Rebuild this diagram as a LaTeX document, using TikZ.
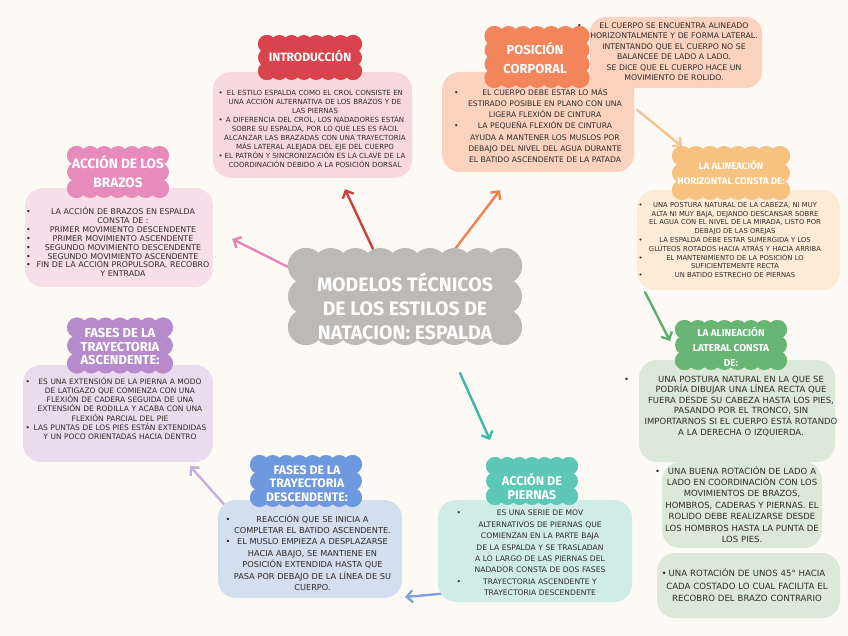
\documentclass[tikz,border=0pt]{standalone}
\usepackage{fontspec}
\setmainfont{Fira Sans}
\newfontfamily\bodyf{DejaVu Sans}
\usetikzlibrary{arrows.meta,calc}
\setlength\parindent{0pt}
\setlength\parskip{0pt}
\definecolor{bgc}{HTML}{FDFAF6}
\definecolor{txtc}{HTML}{302B29}
\definecolor{introC}{HTML}{D9434E}
\definecolor{introB}{HTML}{F9D8DB}
\definecolor{introA}{HTML}{C8413A}
\definecolor{posC}{HTML}{F2855A}
\definecolor{posB}{HTML}{FAD2BE}
\definecolor{posA}{HTML}{EF814F}
\definecolor{braC}{HTML}{E68BBB}
\definecolor{braB}{HTML}{F7DFEA}
\definecolor{braA}{HTML}{E684B6}
\definecolor{horC}{HTML}{F7C27F}
\definecolor{horB}{HTML}{FCEBD5}
\definecolor{horA}{HTML}{F3C690}
\definecolor{ascC}{HTML}{B78BCB}
\definecolor{ascB}{HTML}{E8DCEE}
\definecolor{ascA}{HTML}{C9ACD9}
\definecolor{latC}{HTML}{69B574}
\definecolor{latB}{HTML}{DCE9D8}
\definecolor{latA}{HTML}{5FAF6C}
\definecolor{desC}{HTML}{6E99DF}
\definecolor{desB}{HTML}{D3DEEE}
\definecolor{desA}{HTML}{7EA3DD}
\definecolor{pieC}{HTML}{5DC7B8}
\definecolor{pieB}{HTML}{D0ECE7}
\definecolor{pieA}{HTML}{3BB8A8}
\definecolor{ctrC}{HTML}{BDB9B7}
\newcommand\Lx[1]{\makebox[\hsize][c]{#1}\par}
\newcommand\Bx[2]{\makebox[\hsize][c]{\rlap{\hspace*{#1}\textbullet}\hfill#2\hfill}\par}
% scalloped cloud: cx, cy, W, H, r, colour
\newcommand\puffs[6]{%
  \pgfmathsetmacro\pL{#1-#3/2+#5}\pgfmathsetmacro\pR{#1+#3/2-#5}%
  \pgfmathsetmacro\pT{#2-#4/2+#5}\pgfmathsetmacro\pB{#2+#4/2-#5}%
  \pgfmathtruncatemacro\pnx{max(1,round((#3-2*#5)/(1.45*#5)))}%
  \pgfmathtruncatemacro\pny{max(1,round((#4-2*#5)/(1.45*#5)))}%
  \fill[#6] (\pL,\pT) rectangle (\pR,\pB);
  \foreach \i in {0,...,\pnx}{%
    \fill[#6] ({\pL+\i*(\pR-\pL)/\pnx},\pT) circle[radius=#5pt]
              ({\pL+\i*(\pR-\pL)/\pnx},\pB) circle[radius=#5pt];}
  \foreach \j in {0,...,\pny}{%
    \fill[#6] (\pL,{\pT+\j*(\pB-\pT)/\pny}) circle[radius=#5pt]
              (\pR,{\pT+\j*(\pB-\pT)/\pny}) circle[radius=#5pt];}
}
\pgfdeclarelayer{back}
\pgfdeclarelayer{links}
\pgfsetlayers{back,links,main}
\tikzset{
  panel/.style={rounded corners=18pt, inner sep=0pt},
  ttl/.style={text=white, align=center, inner sep=0pt},
  txt/.style={inner sep=0pt, text=txtc},
  link/.style={line width=2.4pt, line cap=round, -{Straight Barb[length=6pt,width=12pt]}},
}
\begin{document}
\begin{tikzpicture}[x=1pt,y=-1pt]
\begin{pgfonlayer}{back}
\fill[bgc] (0,0) rectangle (848,636);
\end{pgfonlayer}
\useasboundingbox (0,0) rectangle (848,636);

% panels
\node[panel, fill=introB, minimum width=199pt, minimum height=106pt] (introbox) at (312.5,125) {};
\node[panel, fill=posB, minimum width=192pt, minimum height=100pt] (posbox) at (538,122) {};
\node[panel, fill=posB, rounded corners=16pt, minimum width=172pt, minimum height=71pt] (postop) at (676,52.5) {};
\node[panel, fill=braB, minimum width=188pt, minimum height=99pt] (brabox) at (119,237.5) {};
\node[panel, fill=horB, minimum width=203pt, minimum height=100pt] (horbox) at (738.5,240) {};
\node[panel, fill=ascB, minimum width=190pt, minimum height=97pt] (ascbox) at (118,413.5) {};
\node[panel, fill=latB, minimum width=196pt, minimum height=102pt] (latbox) at (737,411) {};
\node[panel, fill=latB, minimum width=160pt, minimum height=86pt] (latboxb) at (742,505) {};
\node[panel, fill=latB, minimum width=183pt, minimum height=65pt] (latboxc) at (748.5,585.5) {};
\node[panel, fill=desB, minimum width=184pt, minimum height=98pt] (desbox) at (310,549) {};
\node[panel, fill=pieB, minimum width=194pt, minimum height=102pt] (piebox) at (535,551) {};

% panel texts
\node[txt, font=\bodyf\fontsize{7.05}{9}\selectfont, text width=204pt] (introtx) at (315,129) {%
\Bx{5.5pt}{EL ESTILO ESPALDA COMO EL CROL CONSISTE EN}
\Lx{UNA ACCIÓN ALTERNATIVA DE LOS BRAZOS Y DE}
\Lx{LAS PIERNAS}
\Bx{5.5pt}{A DIFERENCIA DEL CROL, LOS NADADORES ESTÁN}
\Lx{SOBRE SU ESPALDA, POR LO QUE LES ES FÁCIL}
\Lx{ALCANZAR LAS BRAZADAS CON UNA TRAYECTORIA}
\Lx{MÁS LATERAL ALEJADA DEL EJE DEL CUERPO}
\Bx{5.5pt}{EL PATRÓN Y SINCRONIZACIÓN ES LA CLAVE DE LA}
\Lx{COORDINACIÓN DEBIDO A LA POSICIÓN DORSAL}};

\node[txt, font=\bodyf\fontsize{7.65}{11.2}\selectfont, text width=184pt] (postx) at (545,125.5) {%
\Bx{1pt}{EL CUERPO DEBE ESTAR LO MÁS}
\Lx{ESTIRADO POSIBLE EN PLANO CON UNA}
\Lx{LIGERA FLEXIÓN DE CINTURA}
\Bx{1pt}{LA PEQUEÑA FLEXIÓN DE CINTURA}
\Lx{AYUDA A MANTENER LOS MUSLOS POR}
\Lx{DEBAJO DEL NIVEL DEL AGUA DURANTE}
\Lx{EL BATIDO ASCENDENTE DE LA PATADA}};

\node[txt, font=\bodyf\fontsize{7.75}{10.5}\selectfont, text width=200pt] (postoptx) at (674,51.5) {%
\Bx{3pt}{EL CUERPO SE ENCUENTRA ALINEADO}
\Lx{HORIZONTALMENTE Y DE FORMA LATERAL.}
\Lx{INTENTANDO QUE EL CUERPO NO SE}
\Lx{BALANCEE DE LADO A LADO.}
\Bx{3pt}{SE DICE QUE EL CUERPO HACE UN}
\Lx{MOVIMIENTO DE ROLIDO.}};

\node[txt, font=\bodyf\fontsize{7.9}{8.9}\selectfont, text width=200pt] (bratx) at (123,242) {%
\Bx{3pt}{LA ACCIÓN DE BRAZOS EN ESPALDA}
\Lx{CONSTA DE :}
\Bx{3pt}{PRIMER MOVIMIENTO DESCENDENTE}
\Bx{3pt}{PRIMER MOVIMIENTO ASCENDENTE}
\Bx{3pt}{SEGUNDO MOVIMIENTO DESCENDENTE}
\Bx{3pt}{SEGUNDO MOVIMIENTO ASCENDENTE}
\Bx{3pt}{FIN DE LA ACCIÓN PROPULSORA, RECOBRO}
\Lx{Y ENTRADA}};

\node[txt, font=\bodyf\fontsize{6.8}{8.8}\selectfont, text width=200pt] (hortx) at (735,240) {%
\Bx{3.5pt}{UNA POSTURA NATURAL DE LA CABEZA, NI MUY}
\Lx{ALTA NI MUY BAJA, DEJANDO DESCANSAR SOBRE}
\Lx{EL AGUA CON EL NIVEL DE LA MIRADA, LISTO POR}
\Lx{DEBAJO DE LAS OREJAS}
\Bx{3.5pt}{LA ESPALDA DEBE ESTAR SUMERGIDA Y LOS}
\Lx{GLÚTEOS ROTADOS HACIA ATRÁS Y HACIA ARRIBA}
\Bx{3.5pt}{EL MANTENIMIENTO DE LA POSICIÓN LO}
\Lx{SUFICIENTEMENTE RECTA}
\Bx{3.5pt}{UN BATIDO ESTRECHO DE PIERNAS}};

\node[txt, font=\bodyf\fontsize{7.5}{9.1}\selectfont, text width=200pt] (asctx) at (120,408.5) {%
\Bx{5.5pt}{ES UNA EXTENSIÓN DE LA PIERNA A MODO}
\Lx{DE LATIGAZO QUE COMIENZA CON UNA}
\Lx{FLEXIÓN DE CADERA SEGUIDA DE UNA}
\Lx{EXTENSIÓN DE RODILLA Y ACABA CON UNA}
\Lx{FLEXIÓN PARCIAL DEL PIE}
\Bx{5.5pt}{LAS PUNTAS DE LOS PIES ESTÁN EXTENDIDAS}
\Lx{Y UN POCO ORIENTADAS HACIA DENTRO}};

\node[txt, font=\bodyf\fontsize{8.5}{10.6}\selectfont, text width=236pt] (lattx) at (741,406) {%
\Bx{1pt}{UNA POSTURA NATURAL EN LA QUE SE}
\Lx{PODRÍA DIBUJAR UNA LÍNEA RECTA QUE}
\Lx{FUERA DESDE SU CABEZA HASTA LOS PIES,}
\Lx{PASANDO POR EL TRONCO, SIN}
\Lx{IMPORTARNOS SI EL CUERPO ESTÁ ROTANDO}
\Lx{A LA DERECHA O IZQUIERDA.}};

\node[txt, font=\bodyf\fontsize{8.5}{11.4}\selectfont, text width=180pt] (lattxb) at (742,504.5) {%
\Bx{3pt}{UNA BUENA ROTACIÓN DE LADO A}
\Lx{LADO EN COORDINACIÓN CON LOS}
\Lx{MOVIMIENTOS DE BRAZOS,}
\Lx{HOMBROS, CADERAS Y PIERNAS. EL}
\Lx{ROLIDO DEBE REALIZARSE DESDE}
\Lx{LOS HOMBROS HASTA LA PUNTA DE}
\Lx{LOS PIES.}};

\node[txt, font=\bodyf\fontsize{8.6}{12.5}\selectfont, text width=176pt] (lattxc) at (747,585.5) {%
\Bx{2.5pt}{UNA ROTACIÓN DE UNOS 45° HACIA}
\Lx{CADA COSTADO LO CUAL FACILITA EL}
\Lx{RECOBRO DEL BRAZO CONTRARIO}};

\node[txt, font=\bodyf\fontsize{8.2}{11.4}\selectfont, text width=180pt] (destx) at (312.5,552.5) {%
\Bx{3pt}{REACCIÓN QUE SE INICIA A}
\Lx{COMPLETAR EL BATIDO ASCENDENTE.}
\Bx{3pt}{EL MUSLO EMPIEZA A DESPLAZARSE}
\Lx{HACIA ABAJO, SE MANTIENE EN}
\Lx{POSICIÓN EXTENDIDA HASTA QUE}
\Lx{PASA POR DEBAJO DE LA LÍNEA DE SU}
\Lx{CUERPO.}};

\node[txt, font=\bodyf\fontsize{7.6}{11.4}\selectfont, text width=180pt] (pietx) at (540,553) {%
\Bx{6.5pt}{ES UNA SERIE DE MOV}
\Lx{ALTERNATIVOS DE PIERNAS QUE}
\Lx{COMIENZAN EN LA PARTE BAJA}
\Lx{DE LA ESPALDA Y SE TRASLADAN}
\Lx{A LO LARGO DE LAS PIERNAS DEL}
\Lx{NADADOR CONSTA DE DOS FASES}
\Bx{6.5pt}{TRAYECTORIA ASCENDENTE Y}
\Lx{TRAYECTORIA DESCENDENTE}};

% clouds
\puffs{310}{57.5}{104}{45}{9}{introC}
\node[ttl, minimum width=104pt, minimum height=45pt, font=\bfseries\fontsize{12}{14}\selectfont] (introcl) at (310,56) {INTRODUCCIÓN};
\puffs{537}{57}{105}{62}{10}{posC}
\node[ttl, minimum width=105pt, minimum height=62pt, font=\bfseries\fontsize{13}{19}\selectfont] (poscl) at (535,58) {POSICIÓN\\CORPORAL};
\puffs{118}{172}{102}{52}{9.5}{braC}
\node[ttl, minimum width=102pt, minimum height=52pt, font=\bfseries\fontsize{13.6}{19}\selectfont] (bracl) at (118,172) {ACCIÓN DE LOS\\BRAZOS};
\puffs{731}{173}{118}{54}{10}{horC}
\node[ttl, minimum width=118pt, minimum height=54pt, font=\bfseries\fontsize{9.6}{15}\selectfont] (horcl) at (731,172.5) {LA ALINEACIÓN\\HORIZONTAL CONSTA DE:};
\puffs{120}{345.5}{106}{56}{10}{ascC}
\node[ttl, minimum width=106pt, minimum height=56pt, font=\bfseries\fontsize{13}{13.5}\selectfont] (asccl) at (120,346.5) {FASES DE LA\\TRAYECTORIA\\ASCENDENTE:};
\puffs{731}{345}{112}{50}{9.5}{latC}
\node[ttl, minimum width=112pt, minimum height=50pt, font=\bfseries\fontsize{10}{15}\selectfont] (latcl) at (731,347) {LA ALINEACIÓN\\LATERAL CONSTA\\DE:};
\puffs{306}{481}{112}{52}{9.5}{desC}
\node[ttl, minimum width=112pt, minimum height=52pt, font=\bfseries\fontsize{12.3}{13.5}\selectfont] (descl) at (307,483.5) {FASES DE LA\\TRAYECTORIA\\DESCENDENTE:};
\puffs{532}{481}{92}{48}{9}{pieC}
\node[ttl, minimum width=92pt, minimum height=48pt, font=\bfseries\fontsize{12.6}{14}\selectfont] (piecl) at (532,487) {ACCIÓN DE\\PIERNAS};
\puffs{405}{296.5}{234}{97}{18}{ctrC}
\node[ttl, minimum width=234pt, minimum height=97pt, font=\bfseries\fontsize{19.5}{24}\selectfont] (ctr) at (405,306) {MODELOS TÉCNICOS\\DE LOS ESTILOS DE\\NATACION: ESPALDA};

% connectors
\begin{pgfonlayer}{links}
\draw[link, introA] ($(ctr)+(-32,-57)$) -- ($(introbox.south)+(32.5,11)$);
\draw[link, posA] ($(ctr)+(50,-57)$) -- ($(posbox.south)+(-38,18)$);
\draw[link, braA] ($(ctr)+(-105,-33)$) -- ($(brabox.east)+(19,1.5)$);
\draw[link, pieA] ($(ctr)+(55,67)$) -- ($(piecl)+(-42,-47)$);
\draw[link, horA] ($(posbox.east)+(3,-12)$) -- ($(horcl)+(-49,-26)$);
\draw[link, latA] ($(horbox)+(-93.5,52)$) -- ($(latcl)+(-61,-6)$);
\draw[link, ascA] ($(desbox)+(-81,-39)$) -- ($(ascbox)+(72,52.5)$);
\draw[link, desA] ($(piebox)+(-85,42)$) -- ($(desbox)+(95,48)$);
\end{pgfonlayer}
\end{tikzpicture}
\end{document}
